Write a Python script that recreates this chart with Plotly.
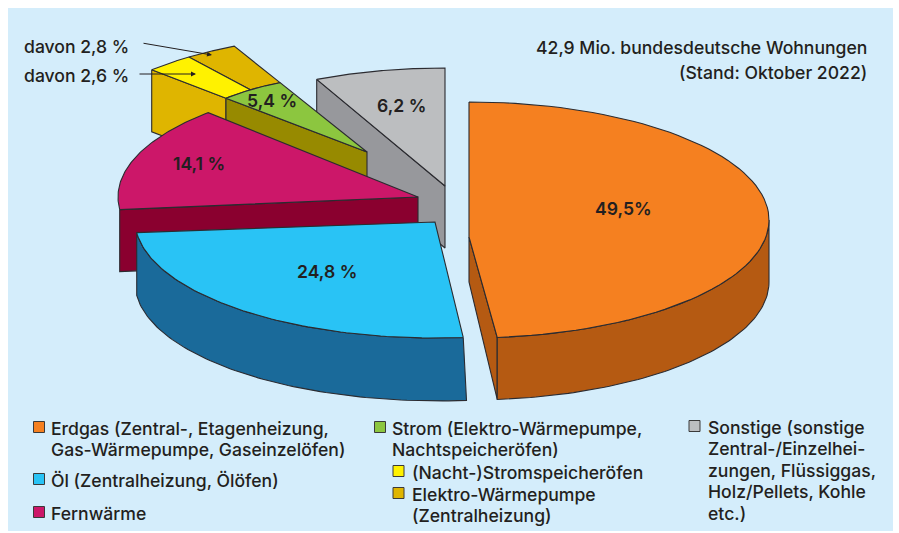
import numpy as np
import plotly.graph_objects as go

# ---- data ----
categories = ["Erdgas", "Öl", "Fernwärme", "Strom", "Sonstige"]
shares = [49.5, 24.8, 14.1, 5.4, 6.2]
share_labels = ["49,5%", "24,8 %", "14,1 %", "5,4 %", "6,2 %"]
strom_parts = ["(Nacht-)Stromspeicheröfen", "Elektro-Wärmepumpe"]
strom_part_shares = [2.6, 2.8]
strom_part_labels = ["davon 2,6 %", "davon 2,8 %"]
title_lines = ["42,9 Mio. bundesdeutsche Wohnungen", "(Stand: Oktober 2022)"]

# ---- style ----
W, H = 899, 533
FONT = "Inter"
TXT = "#231F20"
EDGE = "#2B2B30"
BG = "#D4EDFB"
TOP = {"Erdgas": "#F58020", "Öl": "#29C3F5", "Fernwärme": "#CC1769", "Strom": "#8CC63F", "Sonstige": "#BCBEC0"}
SIDE = {"Erdgas": "#B55A12", "Öl": "#1A6A9A", "Fernwärme": "#8A002F", "Strom": "#978A00", "Sonstige": "#97989C"}
PART_COL = ["#FFF200", "#DFB500"]
A, B = 300.0, 118.0       # pie ellipse half axes
DEPTH = 62.0
START = -3.6              # rotation of the pie
CENTER = {"Erdgas": (469, 220), "Öl": (435, 220), "Fernwärme": (418, 197), "Strom": (367, 152), "Sonstige": (445, 186)}
INNER = 0.655             # radius where the Strom slice is split
TRIM = {"Fernwärme": (0, 1.0), "Strom": (-0.5, -0.35), "Sonstige": (0.6, 0)}  # drawn perspective of the slices

edges = START + np.cumsum([0] + shares) * 3.6 * 100 / sum(shares)
edges[0], edges[-1] = 0.0, 360.0   # both cut faces of the exploded slices sit at 12 o'clock
ANG = {}
for i, c in enumerate(categories):
    tr = TRIM.get(c, (0, 0))
    ANG[c] = (edges[i] + tr[0], edges[i + 1] + tr[1])


def arc(c, t0, t1, r=1.0, dy=0.0, dx=0.0, n=80):
    t = np.radians(np.linspace(t0, t1, n))
    cx, cy = CENTER[c]
    return cx + r * A * np.sin(t) + dx, cy - r * B * np.cos(t) + dy


fig = go.Figure()


def poly(x, y, fill, name=None):
    fig.add_trace(go.Scatter(
        x=list(x) + [x[0]], y=list(y) + [y[0]], mode="lines", fill="toself", fillcolor=fill,
        line=dict(color=EDGE, width=1.1), showlegend=False,
        hoverinfo="text" if name else "skip", text=name, hoveron="fills"))


def slice_top(c, t0=None, t1=None, r0=0.0, r1=1.0, apex=None, name=None):
    t0 = ANG[c][0] if t0 is None else t0
    t1 = ANG[c][1] if t1 is None else t1
    x, y = arc(c, t0, t1, r1)
    if r0 > 0:
        xi, yi = arc(c, t1, t0, r0)
    else:
        ax, ay = apex or CENTER[c]
        xi, yi = np.array([ax]), np.array([ay])
    poly(np.r_[x, xi], np.r_[y, yi], name[1], name[0])


def cut_face(c, t, r0=0.0, r1=1.0, fill=None, apex=None):
    """Vertical radial cut at angle t"""
    xo, yo = arc(c, t, t, r1, n=1)
    xi, yi = arc(c, t, t, r0, n=1)
    if apex:
        xi, yi = np.array([apex[0]]), np.array([apex[1]])
    d_in = DEPTH if not apex else 45
    poly([xo[0], xi[0], xi[0], xo[0]], [yo[0], yi[0], yi[0] + d_in, yo[0] + DEPTH], fill or SIDE[c])


def rim(c, t0, t1, skew=0.0):
    x, y = arc(c, t0, t1)
    s = np.sin(np.radians(np.linspace(t0, t1, 80)))
    poly(np.r_[x, (x + skew * (1 + s))[::-1]], np.r_[y, (y + DEPTH + abs(skew) * 0.3)[::-1]], SIDE[c])


# --- back to front ---
# Sonstige
cut_face("Sonstige", ANG["Sonstige"][0])
slice_top("Sonstige", name=(f"Sonstige: {share_labels[4]}", TOP["Sonstige"]))

# Strom block with the two sub-shares on its outer part
s0, s1 = ANG["Strom"]
split = s0 + (s1 - s0) * strom_part_shares[0] / sum(strom_part_shares)
cut_face("Strom", s0, r0=INNER, fill=PART_COL[1])
cut_face("Strom", s0, r1=INNER)
slice_top("Strom", t0=split, t1=s1, r0=INNER, name=(strom_part_labels[1], PART_COL[1]))
slice_top("Strom", t0=s0, t1=split, r0=INNER, name=(strom_part_labels[0], PART_COL[0]))
slice_top("Strom", r1=INNER, name=(f"Strom: {share_labels[3]}", TOP["Strom"]))

# Fernwärme
f0, f1 = ANG["Fernwärme"]
cut_face("Fernwärme", f0)
slice_top("Fernwärme", name=(f"Fernwärme: {share_labels[2]}", TOP["Fernwärme"]))

# Öl
o0, o1 = ANG["Öl"]
rim("Öl", o0, o1, skew=3.0)
slice_top("Öl", apex=(435, 222), name=(f"Öl: {share_labels[1]}", TOP["Öl"]))

# Erdgas
e0, e1 = ANG["Erdgas"]
APEX_GAS = (469, 237)
cut_face("Erdgas", e1, apex=APEX_GAS)
rim("Erdgas", 90, e1)
slice_top("Erdgas", apex=APEX_GAS, name=(f"Erdgas: {share_labels[0]}", TOP["Erdgas"]))

# --- legend squares ---
legend_rows = [
    ("Erdgas", TOP["Erdgas"], 39, 427, 51, ["Erdgas (Zentral-, Etagenheizung,", "Gas-Wärmepumpe, Gaseinzelöfen)"]),
    ("Öl", TOP["Öl"], 39, 479, 51, ["Öl (Zentralheizung, Ölöfen)"]),
    ("Fernwärme", TOP["Fernwärme"], 39, 512, 51, ["Fernwärme"]),
    ("Strom", TOP["Strom"], 380, 427, 392, ["Strom (Elektro-Wärmepumpe,", "Nachtspeicheröfen)"]),
    (strom_parts[0], PART_COL[0], 398.5, 471, 412, [strom_parts[0]]),
    (strom_parts[1], PART_COL[1], 398.5, 493, 412, [strom_parts[1], "(Zentralheizung)"]),
    ("Sonstige", TOP["Sonstige"], 694.5, 426, 708,
     ["Sonstige (sonstige", "Zentral-/Einzelhei-", "zungen, Flüssiggas,", "Holz/Pellets, Kohle", "etc.)"]),
]
annotations = []


def text(x, y, s, anchor="left", size=17.6, weight=500):
    pad = {"left": -2, "right": 2, "center": 0}[anchor]   # annotation box padding
    annotations.append(dict(x=x + pad, y=y, text=s, showarrow=False, xanchor=anchor, yanchor="middle",
                            xref="x", yref="y", font=dict(family=FONT, size=size, color=TXT, weight=weight)))


for name, col, mx, my, tx, lines in legend_rows:
    fig.add_trace(go.Scatter(x=[mx], y=[my], mode="markers", showlegend=False, hoverinfo="skip",
                             marker=dict(symbol="square", size=11, color=col, line=dict(color="#3A3A3A", width=1))))
    for i, ln in enumerate(lines):
        text(tx, my + 1 + i * 21.5, ln)

# --- texts ---
text(867, 47, title_lines[0], "right")
text(867, 72, title_lines[1], "right")
text(24, 46, strom_part_labels[1])
text(24, 75, strom_part_labels[0])
label_pos = [(623, 208), (327, 271), (199, 163), (272, 100), (401, 105)]
for (x, y), s in zip(label_pos, share_labels):
    text(x, y, s, "center", weight=600)

for (x0, y0, x1, y1) in [(142, 43, 212, 55), (138, 74, 196, 74)]:
    annotations.append(dict(x=x1, y=y1, ax=x0, ay=y0, axref="x", ayref="y", xref="x", yref="y", text="",
                            showarrow=True, arrowhead=2, arrowsize=1, arrowwidth=1, arrowcolor=TXT))

fig.update_layout(
    width=W, height=H, autosize=False, margin=dict(l=0, r=0, t=0, b=0),
    paper_bgcolor="white", plot_bgcolor="white", showlegend=False, annotations=annotations,
    xaxis=dict(range=[0, W], visible=False, fixedrange=True),
    yaxis=dict(range=[H, 0], visible=False, fixedrange=True),
    shapes=[dict(type="rect", x0=8, x1=893, y0=8, y1=531, xref="x", yref="y", fillcolor=BG,
                 line=dict(width=0), layer="below")],
)
fig.write_html("out.html", config={"displayModeBar": False, "responsive": False},
               post_script="document.body.style.margin='0';document.body.style.overflow='hidden';")
